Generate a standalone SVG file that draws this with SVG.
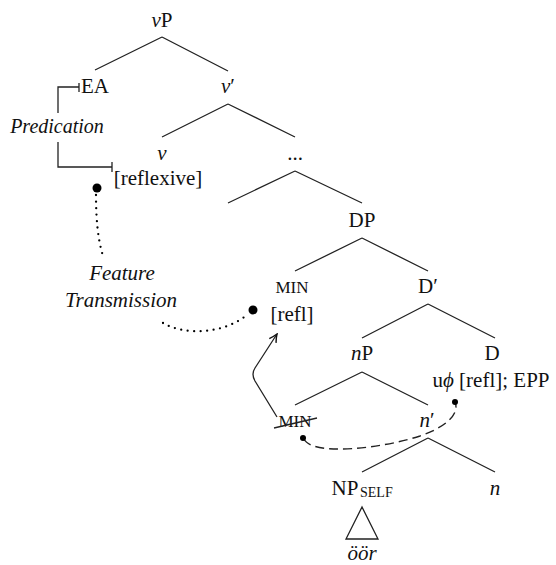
<svg xmlns="http://www.w3.org/2000/svg" width="556" height="565" viewBox="0 0 556 565" font-family="'Liberation Serif','Times New Roman',serif">
<defs>
<style>
text{font-family:"Liberation Serif","Times New Roman",serif;font-size:21px;fill:#111;text-anchor:middle}
.it{font-style:italic}
.pr{font-size:20px}
.sc{font-size:17px}
.sub{font-size:14px;text-anchor:start}
.ln{stroke:#222;stroke-width:1.3;fill:none}
.dot{fill:#000}
.dotted{stroke:#000;stroke-width:2.3;fill:none;stroke-dasharray:0 6.5;stroke-linecap:round}
.dashed{stroke:#222;stroke-width:1.4;fill:none;stroke-dasharray:9 5}
</style>
<marker id="arr" viewBox="-9 -5 10 10" refX="0" refY="0" markerWidth="10" markerHeight="10" markerUnits="userSpaceOnUse" orient="auto">
<path d="M-8,-4 Q-3,-1 0,0 Q-3,1 -8,4" fill="none" stroke="#111" stroke-width="1.4"/>
</marker>
</defs>
<rect width="556" height="565" fill="#fff"/>
<g id="connectors">
<path class="ln" d="M162 37 L95 70 M162 37 L228 71"/>
<path class="ln" d="M228 104 L162 137 M228 104 L295 137"/>
<path class="ln" d="M295 171 L228 203 M295 171 L362 203"/>
<path class="ln" d="M362 238 L295 271 M362 238 L428 271"/>
<path class="ln" d="M428 304 L362 338 M428 304 L495 338"/>
<path class="ln" d="M362 372 L295 405 M362 372 L428 405"/>
<path class="ln" d="M428 438 L362 472 M428 438 L495 472"/>
<path class="ln" d="M58 113 V87 H79 M79 83 V92"/>
<path class="ln" d="M58 142 V167 H112 M112 162 V172"/>
<path class="dotted" d="M96 195 C96 220 98 240 103 256"/>
<path class="dotted" d="M163 323 C185 336 225 334 248 314"/>
<path class="dashed" d="M304 439 C312 456 380 449 420 436 C446 427 460 414 455 402"/>
<path class="ln" d="M277 417 L255 381 Q251 374 255 368 L277 334" marker-end="url(#arr)"/>
<circle class="dot" cx="97" cy="188" r="4.5"/>
<circle class="dot" cx="253" cy="310" r="4.5"/>
<circle class="dot" cx="303" cy="438" r="3"/>
<circle class="dot" cx="455" cy="402" r="3"/>
</g>
<g id="vP"><text x="162" y="27"><tspan class="it">v</tspan>P</text></g>
<g id="EA"><text x="95" y="93">EA</text></g>
<g id="predication"><text class="it pr" x="57" y="133">Predication</text></g>
<g id="vbar"><text x="228" y="93"><tspan class="it">v</tspan>′</text></g>
<g id="v"><text class="it" x="162" y="160">v</text></g>
<g id="reflexive"><text x="158" y="185">[reflexive]</text></g>
<g id="dots"><text x="295" y="160">...</text></g>
<g id="feature"><text class="it" x="122" y="280">Feature</text><text class="it" x="121" y="307">Transmission</text></g>
<g id="DP"><text x="362" y="227">DP</text></g>
<g id="MIN"><text class="sc" x="292" y="293">MIN</text><text x="292" y="321">[refl]</text></g>
<g id="Dbar"><text x="428" y="293">D′</text></g>
<g id="nP"><text x="362" y="360"><tspan class="it">n</tspan>P</text></g>
<g id="D"><text x="492" y="360">D</text><text x="491" y="387">u<tspan class="it">ϕ</tspan> [refl]; EPP</text></g>
<g id="MINcopy"><text class="sc" x="295" y="427">MIN</text><path class="ln" d="M274 428 L317 418"/></g>
<g id="nbar"><text x="427" y="427"><tspan class="it">n</tspan>′</text></g>
<g id="NPself"><text x="345" y="495">NP</text><text class="sub" x="360" y="497">SELF</text><path class="ln" d="M362 507 L346 539 L378 539 Z"/><text class="it" x="362" y="560">öör</text></g>
<g id="n"><text class="it" x="495" y="495">n</text></g>
</svg>
